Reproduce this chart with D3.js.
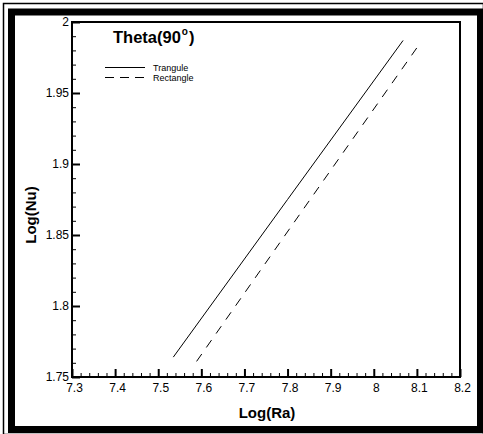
<!DOCTYPE html>
<html>
<head>
<meta charset="utf-8">
<script src="https://cdn.jsdelivr.net/npm/d3@7"></script>
<style>
  html, body { margin: 0; padding: 0; background: #fff; }
  svg { display: block; }
  text { font-family: Arial, "Liberation Sans", sans-serif; fill: #000; }
</style>
</head>
<body>
<script>
// Nusselt-Rayleigh correlation at theta = 90 degrees (log-log)
const seriesNames = ["Trangule", "Rectangle"];
const logRaTri = [7.535, 7.80, 8.068];
const logNuTri = [1.764, 1.875, 1.987];
const logRaRect = [7.589, 7.85, 8.105];
const logNuRect = [1.761, 1.874, 1.984];

const xMajor = [7.3, 7.4, 7.5, 7.6, 7.7, 7.8, 7.9, 8.0, 8.1, 8.2];
const xLabels = ["7.3", "7.4", "7.5", "7.6", "7.7", "7.8", "7.9", "8", "8.1", "8.2"];
const yMajor = [1.75, 1.8, 1.85, 1.9, 1.95, 2.0];
const yLabels = ["1.75", "1.8", "1.85", "1.9", "1.95", "2"];

const W = 483, H = 434;
const plot = { left: 72, top: 22, right: 460, bottom: 377 };

const svg = d3.select("body").append("svg").attr("width", W).attr("height", H);

// window-style double frame
svg.append("rect").attr("x", 3.5).attr("y", 3.5).attr("width", W - 3).attr("height", H - 3)
  .attr("fill", "none").attr("stroke", "#000").attr("stroke-width", 1.5);
svg.append("rect").attr("x", 11.5).attr("y", 12).attr("width", 469).attr("height", 417.5)
  .attr("fill", "none").attr("stroke", "#000").attr("stroke-width", 7);

const x = d3.scaleLinear().domain([7.3, 8.2]).range([plot.left, plot.right]);
const y = d3.scaleLinear().domain([1.75, 2.0]).range([plot.bottom, plot.top]);

const xMinor = d3.range(7.3, 8.2001, 0.02).filter(v => Math.abs(Math.round(v * 10) - v * 10) > 1e-6);
const yMinor = d3.range(1.75, 2.0001, 0.01).filter(v => Math.abs(Math.round(v * 20) - v * 20) > 1e-6);

// minor ticks
svg.append("g").attr("transform", `translate(0,${plot.bottom})`)
  .call(d3.axisBottom(x).tickValues(xMinor).tickSize(-4).tickFormat(""))
  .call(g => g.select(".domain").remove())
  .call(g => g.selectAll("line").attr("stroke-width", 1));
svg.append("g").attr("transform", `translate(${plot.left},0)`)
  .call(d3.axisLeft(y).tickValues(yMinor).tickSize(-4).tickFormat(""))
  .call(g => g.select(".domain").remove())
  .call(g => g.selectAll("line").attr("stroke-width", 1));

// major ticks with labels
svg.append("g").attr("transform", `translate(0,${plot.bottom})`)
  .call(d3.axisBottom(x).tickValues(xMajor).tickSize(-8).tickPadding(6)
    .tickFormat((d, i) => xLabels[i]))
  .call(g => g.select(".domain").remove())
  .call(g => g.selectAll("line").attr("stroke-width", 2))
  .call(g => g.selectAll("text").attr("font-size", 12).attr("fill", "#333")
    .attr("font-family", "Arial, 'Liberation Sans', sans-serif").attr("dx", 2));
svg.append("g").attr("transform", `translate(${plot.left},0)`)
  .call(d3.axisLeft(y).tickValues(yMajor).tickSize(-8).tickPadding(3)
    .tickFormat((d, i) => yLabels[i]))
  .call(g => g.select(".domain").remove())
  .call(g => g.selectAll("line").attr("stroke-width", 2))
  .call(g => g.selectAll("text").attr("font-size", 12).attr("fill", "#333")
    .attr("font-family", "Arial, 'Liberation Sans', sans-serif"));

// plot frame
svg.append("rect").attr("x", plot.left).attr("y", plot.top)
  .attr("width", plot.right - plot.left).attr("height", plot.bottom - plot.top)
  .attr("fill", "none").attr("stroke", "#000").attr("stroke-width", 2);

// series
const line = d3.line().x(d => x(d[0])).y(d => y(d[1]));
svg.append("path").datum(logRaTri.map((v, i) => [v, logNuTri[i]]))
  .attr("d", line).attr("fill", "none").attr("stroke", "#000").attr("stroke-width", 1);
svg.append("path").datum(logRaRect.map((v, i) => [v, logNuRect[i]]))
  .attr("d", line).attr("fill", "none").attr("stroke", "#000").attr("stroke-width", 1)
  .attr("stroke-dasharray", "9,8");

// title with superscript degree mark
const title = svg.append("text").attr("x", 113).attr("y", 43)
  .attr("font-size", 16.5).attr("font-weight", "bold");
title.append("tspan").text("Theta(90");
title.append("tspan").attr("font-size", 10).attr("dy", -8).attr("dx", 1).text("o");
title.append("tspan").attr("dy", 8).attr("dx", 1).text(")");

// legend
const legend = svg.append("g");
seriesNames.forEach((name, i) => {
  const ly = 67.5 + i * 10;
  legend.append("line").attr("x1", 105).attr("x2", 145).attr("y1", ly).attr("y2", ly)
    .attr("stroke", "#000").attr("stroke-width", 1)
    .attr("stroke-dasharray", i === 1 ? "9,6" : null);
  legend.append("text").attr("x", 153).attr("y", ly + 3).attr("font-size", 9).text(name);
});

// axis titles
svg.append("text").attr("x", 267).attr("y", 418).attr("text-anchor", "middle")
  .attr("font-size", 15).attr("font-weight", "bold").text("Log(Ra)");
svg.append("text").attr("transform", "translate(36,215) rotate(-90)").attr("text-anchor", "middle")
  .attr("font-size", 15).attr("font-weight", "bold").text("Log(Nu)");
</script>
</body>
</html>
